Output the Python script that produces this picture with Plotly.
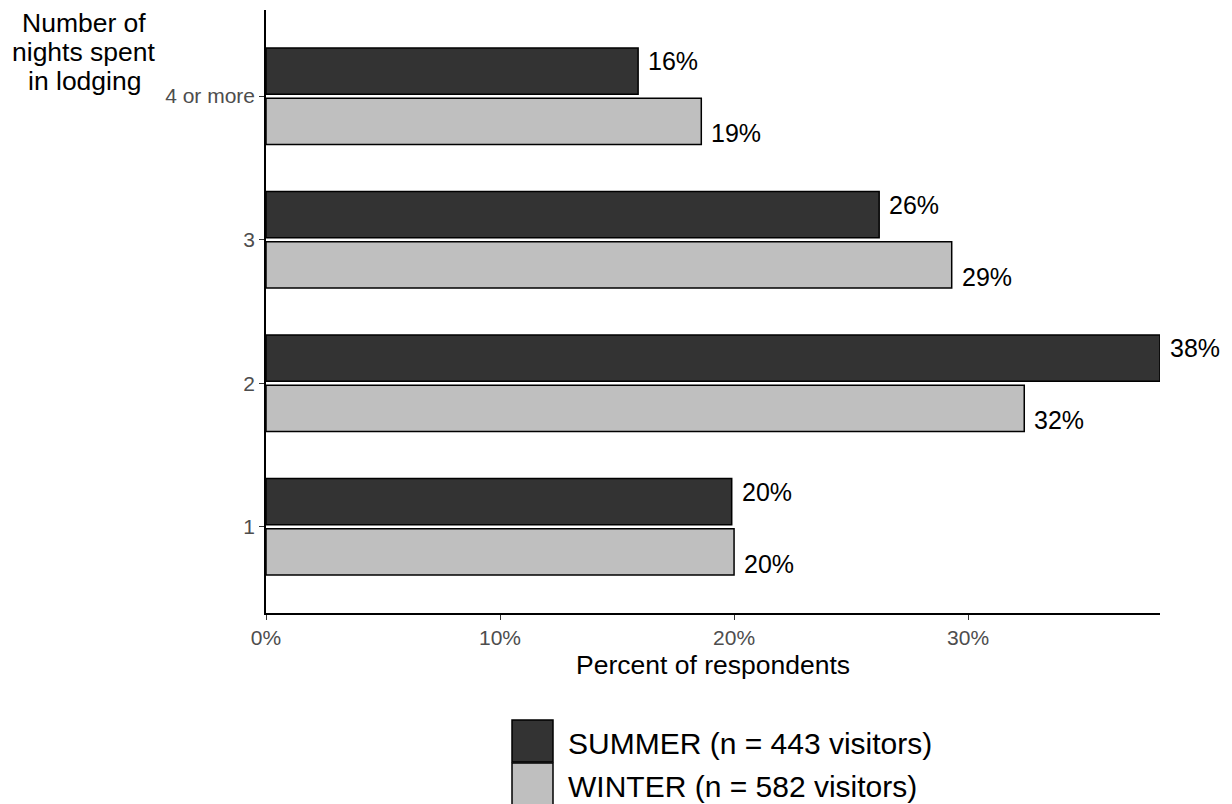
import plotly.graph_objects as go

categories = ["1", "2", "3", "4 or more"]
summer_pct = [19.9, 38.2, 26.2, 15.9]
winter_pct = [20.0, 32.4, 29.3, 18.6]
summer_labels = ["20%", "38%", "26%", "16%"]
winter_labels = ["20%", "32%", "29%", "19%"]
x_ticks = [0, 10, 20, 30]
x_tick_labels = ["0%", "10%", "20%", "30%"]
legend_names = ["SUMMER (n = 443 visitors)", "WINTER (n = 582 visitors)"]
y_title_lines = ["Number of", "nights spent", "in lodging"]
summer_color = "#333333"
winter_color = "#BFBFBF"

FONT = "Liberation Sans, Arial, sans-serif"

# page has an 8px body margin; plot area on page: x 266..1160, y 10..613
PL, PR, PT, PB = 266, 1160, 10, 613
PW, PH = PR - PL, PB - PT


def px(X):
    return (X - PL) / PW


def py(Y):
    return 1 - (Y - PT) / PH


fig = go.Figure()
# Winter added first so that summer sits on top within each group
fig.add_trace(go.Bar(y=categories, x=winter_pct, orientation="h", name=legend_names[1],
                     marker=dict(color=winter_color, line=dict(color="black", width=1.5)),
                     showlegend=False, hoverinfo="skip"))
fig.add_trace(go.Bar(y=categories, x=summer_pct, orientation="h", name=legend_names[0],
                     marker=dict(color=summer_color, line=dict(color="black", width=1.5)),
                     showlegend=False, hoverinfo="skip"))

for i, (v, lab) in enumerate(zip(summer_pct, summer_labels)):
    fig.add_annotation(x=v, y=i, text=lab, showarrow=False, xanchor="left", yanchor="middle",
                       xshift=8, yshift=35, font=dict(size=25, color="black", family=FONT))
for i, (v, lab) in enumerate(zip(winter_pct, winter_labels)):
    fig.add_annotation(x=v, y=i, text=lab, showarrow=False, xanchor="left", yanchor="middle",
                       xshift=8, yshift=-37, font=dict(size=25, color="black", family=FONT))

# y-axis title at top-left
for line, yc in zip(y_title_lines, [23, 52, 81]):
    fig.add_annotation(x=px(84), y=py(yc), xref="paper", yref="paper",
                       text=line, showarrow=False, xanchor="center", yanchor="middle",
                       borderpad=0,
                       font=dict(size=26.5, color="black", family=FONT))

# x-axis title
fig.add_annotation(x=px(713), y=py(665), xref="paper", yref="paper",
                   text="Percent of respondents", showarrow=False, xanchor="center", yanchor="middle",
                   font=dict(size=26.5, color="black", family=FONT))

# custom legend with large keys
leg = [(legend_names[0], summer_color, 720), (legend_names[1], winter_color, 763)]
for name, col, top in leg:
    fig.add_shape(type="rect", xref="paper", yref="paper",
                  x0=px(512), x1=px(553), y0=py(top), y1=py(top + 42),
                  fillcolor=col, line=dict(color="black", width=1.5))
    fig.add_annotation(x=px(566), y=py(top + 23), xref="paper", yref="paper",
                       text=name, showarrow=False, xanchor="left", yanchor="middle",
                       font=dict(size=30, color="black", family=FONT))

fig.update_layout(
    width=1224, height=796,
    margin=dict(l=PL - 8, r=1224 - (PR - 8), t=PT - 8, b=796 - (PB - 8)),
    plot_bgcolor="white", paper_bgcolor="white",
    barmode="group", bargap=0.30, bargroupgap=0.08,
    font=dict(family=FONT),
    showlegend=False,
)
fig.update_xaxes(range=[0, max(summer_pct + winter_pct)], tickvals=x_ticks, ticktext=x_tick_labels,
                 showgrid=False, zeroline=False, showline=True, linecolor="black", linewidth=1.5,
                 ticks="outside", ticklen=5, tickcolor="#333333", tickwidth=1.2,
                 tickfont=dict(size=21, color="#4D4D4D", family=FONT))
fig.update_yaxes(type="category", categoryorder="array", categoryarray=categories,
                 range=[-0.6, 3.6], showgrid=False, zeroline=False, showline=True,
                 linecolor="black", linewidth=1.5,
                 ticks="outside", ticklen=5, tickcolor="#333333", tickwidth=1.2,
                 tickfont=dict(size=21, color="#4D4D4D", family=FONT))

fig.write_html("out.html")
